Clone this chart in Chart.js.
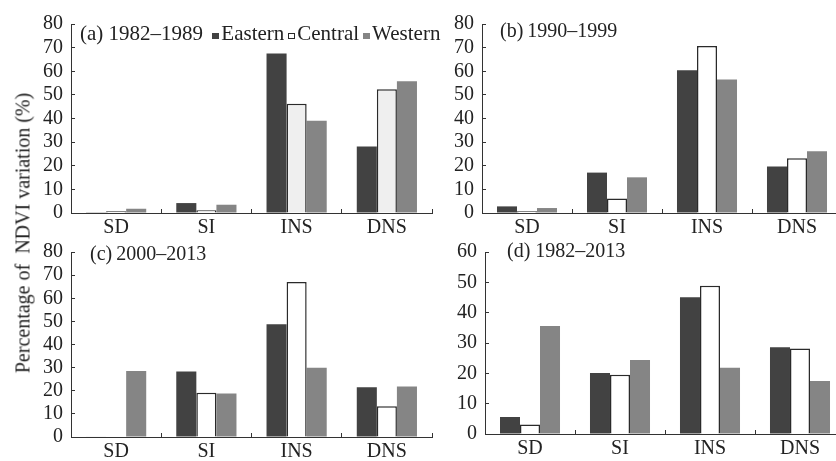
<!DOCTYPE html>
<html lang="en">
<head>
  <meta charset="UTF-8">
  <title>NDVI variation by region</title>
  <script src="https://cdn.jsdelivr.net/npm/chart.js"></script>
  <style>
    body { margin: 0; width: 836px; height: 461px; overflow: hidden; background: #fff; position: relative;
           font-family: 'Liberation Serif', 'Times New Roman', serif; color: #222; }
    canvas { position: absolute; }
    .lbl { position: absolute; font-size: 20px; line-height: 20px; white-space: nowrap; }
    #la { font-size: 21px; }
    .sw { display: inline-block; width: 7px; height: 6px; margin: 0 2px 0 4px; vertical-align: 1px; box-sizing: border-box; }
    #ytitle { position: absolute; left: 23px; top: 233px; font-size: 20px; white-space: nowrap;
              transform: translate(-50%, -50%) rotate(-90deg); }
  </style>
</head>
<body>
  <canvas id="ca" width="450" height="240" style="left:0;top:0"></canvas>
  <canvas id="cb" width="440" height="240" style="left:411px;top:0"></canvas>
  <canvas id="cc" width="450" height="233" style="left:0;top:228px"></canvas>
  <canvas id="cd" width="440" height="233" style="left:414px;top:228px"></canvas>

  <div class="lbl" id="la" style="left:80px;top:23px"></div>
  <div class="lbl" style="left:500px;top:20px">(b)&thinsp;1990–1999</div>
  <div class="lbl" style="left:90px;top:243px">(c)&thinsp;2000–2013</div>
  <div class="lbl" style="left:507px;top:240px">(d) 1982–2013</div>
  <div id="ytitle">Percentage of&nbsp; NDVI variation (%)</div>

  <script>
    const categories = ["SD", "SI", "INS", "DNS"];
    const regions = ["Eastern", "Central", "Western"];

    // (a) 1982-1989
    const eastA = [0.3, 4.2, 67.5, 28.2];
    const centA = [0.7, 1.2, 46.2, 52.4];
    const westA = [1.8, 3.5, 39.0, 55.8];
    // (b) 1990-1999
    const eastB = [2.8, 17.1, 60.4, 19.7];
    const centB = [0.7, 6.1, 70.7, 23.2];
    const westB = [2.1, 15.1, 56.5, 26.1];
    // (c) 2000-2013
    const eastC = [0.2, 28.3, 48.8, 21.5];
    const centC = [0.2, 19.1, 67.0, 13.3];
    const westC = [28.5, 18.8, 29.9, 21.8];
    // (d) 1982-2013
    const eastD = [5.6, 20.1, 45.1, 28.6];
    const centD = [3.1, 19.5, 48.9, 28.2];
    const westD = [35.6, 24.4, 21.8, 17.5];

    const axisMax = [80, 80, 80, 60];

    const colEast = "#424242";
    const colWest = "#858585";
    const colEdge = "#2a2a2a";

    Chart.defaults.font.family = "'Liberation Serif', 'Times New Roman', serif";
    Chart.defaults.font.size = 20;
    Chart.defaults.color = "#222";

    // legend text in panel (a)
    const swatch = [
      'background:' + colEast,
      'background:#fff;border:1px solid ' + colEdge,
      'background:' + colWest
    ];
    document.getElementById("la").innerHTML = "(a) 1982–1989 " +
      regions.map((r, i) => '<span class="sw" style="' + swatch[i] + '"></span>' + r).join("");

    function makeChart(id, east, cent, west, max, centFill, pad, yWidth, xHeight) {
      return new Chart(document.getElementById(id), {
        type: "bar",
        data: {
          labels: categories,
          datasets: [
            { label: regions[0], data: east, backgroundColor: colEast, borderWidth: 0 },
            { label: regions[1], data: cent, backgroundColor: centFill, borderColor: colEdge, borderWidth: 1.5 },
            { label: regions[2], data: west, backgroundColor: colWest, borderWidth: 0 }
          ]
        },
        options: {
          responsive: false,
          animation: false,
          layout: { padding: pad },
          plugins: { legend: { display: false }, tooltip: { enabled: false } },
          datasets: { bar: { categoryPercentage: 0.667, barPercentage: 1.0 } },
          scales: {
            x: {
              grid: { drawOnChartArea: false, tickLength: -4, color: "#333", offset: true },
              border: { color: "#333", width: 1 },
              ticks: { padding: 7, color: "#222" },
              afterFit: s => { s.height = xHeight; }
            },
            y: {
              min: 0, max: max,
              grid: { drawOnChartArea: false, tickLength: -4, color: "#333" },
              border: { color: "#333", width: 1 },
              ticks: { stepSize: 10, autoSkip: false, padding: 12, color: "#222" },
              afterFit: s => { s.width = yWidth; }
            }
          }
        }
      });
    }

    makeChart("ca", eastA, centA, westA, axisMax[0], "#efefef", { left: 0, top: 20, right: 18, bottom: 0 }, 71, 27);
    makeChart("cb", eastB, centB, westB, axisMax[1], "#ffffff", { left: 0, top: 20, right: 9, bottom: 0 }, 71, 27);
    makeChart("cc", eastC, centC, westC, axisMax[2], "#ffffff", { left: 0, top: 14, right: 18, bottom: 0 }, 71, 24);
    makeChart("cd", eastD, centD, westD, axisMax[3], "#ffffff", { left: 0, top: 14, right: 9, bottom: 0 }, 71, 27);
  </script>
</body>
</html>
